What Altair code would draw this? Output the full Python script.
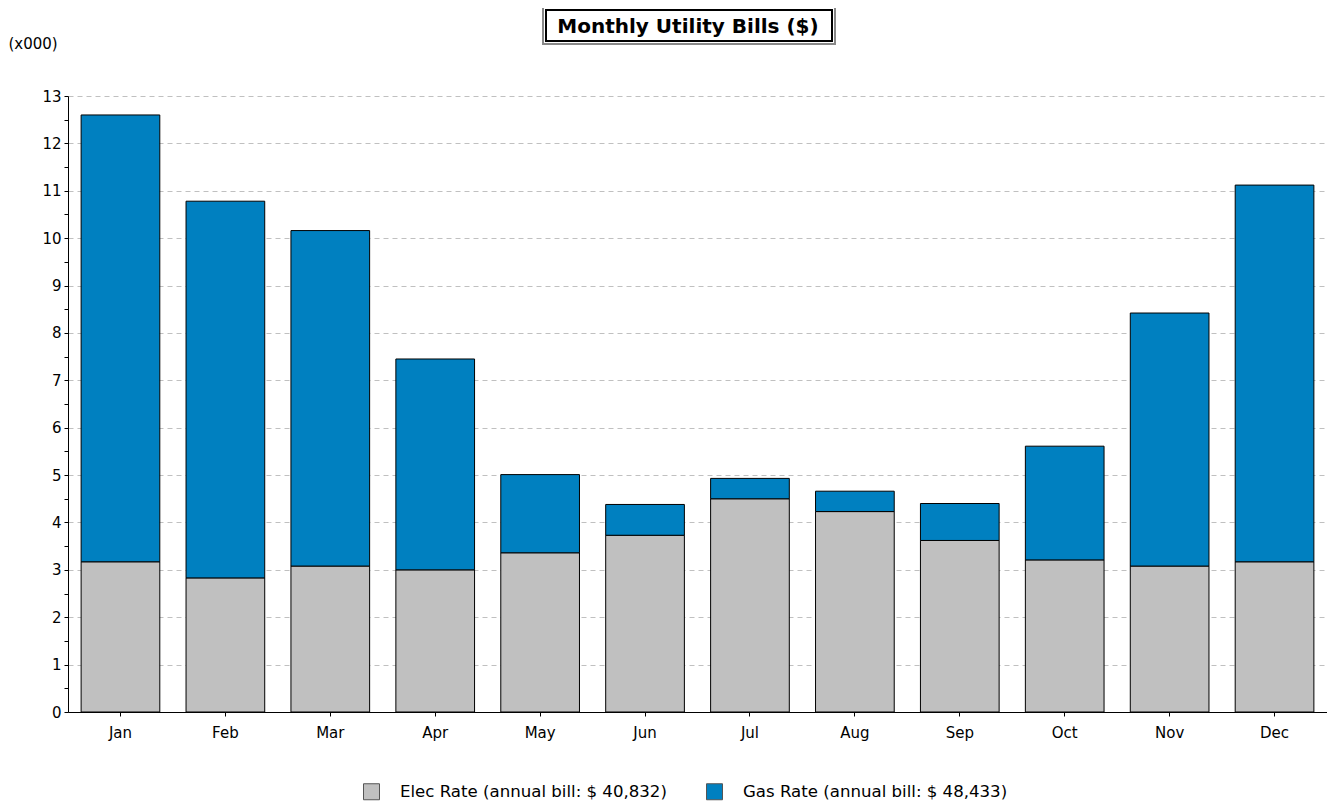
import altair as alt
import pandas as pd

months = ["Jan", "Feb", "Mar", "Apr", "May", "Jun", "Jul", "Aug", "Sep", "Oct", "Nov", "Dec"]
elec = [3.17, 2.83, 3.08, 3.00, 3.36, 3.73, 4.50, 4.23, 3.62, 3.21, 3.08, 3.17]
gas = [9.43, 7.95, 7.08, 4.45, 1.65, 0.65, 0.43, 0.43, 0.78, 2.40, 5.34, 7.95]
series = ["Elec Rate (annual bill: $ 40,832)", "Gas Rate (annual bill: $ 48,433)"]
colors = ["#C0C0C0", "#0080C0"]
y_ticks = [i / 2 for i in range(27)]
title_text = "Monthly Utility Bills ($)"

rows = []
for m, e, g in zip(months, elec, gas):
    rows.append({"month": m, "series": series[0], "value": e, "order": 0})
    rows.append({"month": m, "series": series[1], "value": g, "order": 1})
df = pd.DataFrame(rows)

FONT = "DejaVu Sans"

bars = alt.Chart(df).mark_bar(stroke="black", strokeWidth=1).encode(
    x=alt.X(
        "month:N", sort=months,
        scale=alt.Scale(paddingInner=0.25, paddingOuter=0.125),
        axis=alt.Axis(title=None, labelAngle=0, labelFontSize=15, labelPadding=9,
                      tickSize=4, grid=False),
    ),
    y=alt.Y(
        "value:Q", stack="zero",
        scale=alt.Scale(domain=[0, 13], nice=False),
        axis=alt.Axis(
            values=y_ticks,
            labelExpr="datum.value % 1 === 0 ? '' + datum.value : ''",
            title="(x000)", titleAngle=0, titleX=-60, titleY=-53,
            titleAlign="left", titleBaseline="middle", titleFontWeight="normal",
            titleFontSize=15, labelFontSize=15, tickSize=4, labelPadding=3,
            grid=True, gridDash=[5, 4], gridColor="#C0C0C0",
            gridOpacity={"condition": {"test": "datum.value % 1 !== 0", "value": 0}, "value": 1},
        ),
    ),
    color=alt.Color(
        "series:N",
        scale=alt.Scale(domain=series, range=colors),
        legend=alt.Legend(
            title=None, orient="none", legendX=295, legendY=687, direction="horizontal",
            symbolType="square", symbolSize=256, symbolStrokeColor="#555555",
            symbolStrokeWidth=1, symbolOpacity=1, labelFontSize=16.6, labelOffset=20,
            labelLimit=0, columnPadding=37, padding=0, labelColor="black",
        ),
    ),
    order=alt.Order("order:Q"),
)

tdata = alt.Data(values=[{"t": title_text}])
box_outer = alt.Chart(tdata).mark_rect(fill="white", stroke="#888888", strokeWidth=2).encode(
    x=alt.value(475), x2=alt.value(767), y=alt.value(-89), y2=alt.value(-52)
)
box_inner = alt.Chart(tdata).mark_rect(fill="white", stroke="black", strokeWidth=2).encode(
    x=alt.value(478), x2=alt.value(764), y=alt.value(-86), y2=alt.value(-55)
)
title_txt = alt.Chart(tdata).mark_text(
    font=FONT, fontSize=20, fontWeight="bold", align="center", baseline="middle", color="black"
).encode(x=alt.value(620), y=alt.value(-69), text="t:N")

chart = alt.layer(bars, box_outer, box_inner, title_txt).properties(
    width=1259, height=616,
    padding={"left": 60, "top": 88, "right": 0, "bottom": 90},
    autosize=alt.AutoSizeParams(type="none"),
).configure_view(stroke=None).configure_axis(
    labelFont=FONT, titleFont=FONT, domainColor="black", tickColor="black",
    labelColor="black", titleColor="black",
).configure_legend(labelFont=FONT)

chart.save("out.html", embed_options={"renderer": "svg", "actions": False})
